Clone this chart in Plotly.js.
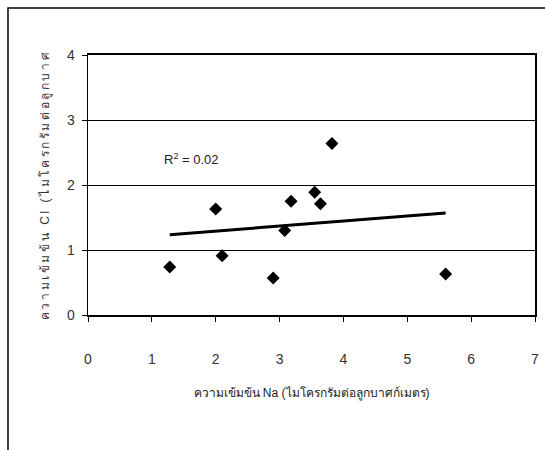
<!DOCTYPE html>
<html>
<head>
<meta charset="utf-8">
<script src="https://cdn.plot.ly/plotly-3.0.1.min.js"></script>
<style>
  html, body { margin: 0; padding: 0; background: #fff; }
  #chart { width: 545px; height: 450px; }
  /* the vertical Thai title is set wide */
  #chart .ytitle { letter-spacing: 2.6px; }
</style>
</head>
<body>
<div id="chart"></div>
<script>
// Na vs Cl concentrations (µg/m³)
const naValues = [1.28, 2.00, 2.10, 2.90, 3.08, 3.18, 3.55, 3.64, 3.82, 5.60];
const clValues = [0.74, 1.63, 0.91, 0.57, 1.30, 1.75, 1.89, 1.71, 2.64, 0.63];
const xTicks = [0, 1, 2, 3, 4, 5, 6, 7];
const yTicks = [0, 1, 2, 3, 4];

const xTitle = 'ความเข้มข้น Na (ไมโครกรัมต่อลูกบาศก์เมตร)';
const yTitle = 'ความเข้มข้น Cl (ไมโครกรัมต่อลูกบาศ';

// Least-squares linear fit and R²
function linearFit(xs, ys) {
  const n = xs.length;
  const mx = xs.reduce((a, b) => a + b, 0) / n;
  const my = ys.reduce((a, b) => a + b, 0) / n;
  let sxy = 0, sxx = 0, syy = 0;
  for (let i = 0; i < n; i++) {
    const dx = xs[i] - mx, dy = ys[i] - my;
    sxy += dx * dy; sxx += dx * dx; syy += dy * dy;
  }
  const slope = sxy / sxx;
  return { slope, intercept: my - slope * mx, r2: (sxy * sxy) / (sxx * syy) };
}

const fit = linearFit(naValues, clValues);
const xMin = Math.min(...naValues), xMax = Math.max(...naValues);
const trendX = [xMin, xMax];
const trendY = trendX.map(x => fit.intercept + fit.slope * x);

const font = 'Arial, "Liberation Sans", "Noto Sans", sans-serif';

const traces = [
  {
    x: trendX, y: trendY, type: 'scatter', mode: 'lines',
    line: { color: '#000', width: 3 }, hoverinfo: 'skip'
  },
  {
    x: naValues, y: clValues, type: 'scatter', mode: 'markers',
    marker: { symbol: 'diamond', size: 10, color: '#000' }
  }
];

const layout = {
  width: 545, height: 450,
  margin: { l: 88, r: 10, t: 55, b: 135 },
  paper_bgcolor: '#fff', plot_bgcolor: '#fff',
  showlegend: false,
  font: { family: font, size: 13, color: '#333' },
  xaxis: {
    range: [0, 7], tickvals: xTicks, ticktext: xTicks.map(String),
    showgrid: false, zeroline: false,
    showline: true, linecolor: '#000', linewidth: 2, mirror: true,
    ticks: 'outside', ticklen: 5, tickcolor: '#000', tickwidth: 1,
    ticklabelstandoff: 25,
    tickfont: { family: font, size: 14, color: '#333' },
    title: { text: xTitle, font: { family: font, size: 12, color: '#222' }, standoff: 23 }
  },
  yaxis: {
    range: [0, 4], tickvals: yTicks, ticktext: yTicks.map(String),
    showgrid: true, gridcolor: '#000', gridwidth: 1, zeroline: false,
    showline: true, linecolor: '#000', linewidth: 1.5, mirror: true,
    ticks: 'outside', ticklen: 5, tickcolor: '#000', tickwidth: 1,
    ticklabelstandoff: 4,
    tickfont: { family: font, size: 14, color: '#333' },
    title: { text: yTitle, font: { family: font, size: 12, color: '#333' }, standoff: 14 }
  },
  annotations: [
    {
      x: 1.16, y: 2.4, xref: 'x', yref: 'y', xanchor: 'left', yanchor: 'middle',
      text: 'R<sup>2</sup> = ' + fit.r2.toFixed(2), showarrow: false,
      font: { family: font, size: 13, color: '#222' }
    }
  ],
  shapes: [
    {
      type: 'rect', xref: 'paper', yref: 'paper', layer: 'above',
      x0: -0.179, x1: 1.1, y0: -0.6, y1: 1.1808,
      line: { color: '#000', width: 1.5 }
    }
  ]
};

Plotly.newPlot('chart', traces, layout, { displayModeBar: false, staticPlot: true });
</script>
</body>
</html>
